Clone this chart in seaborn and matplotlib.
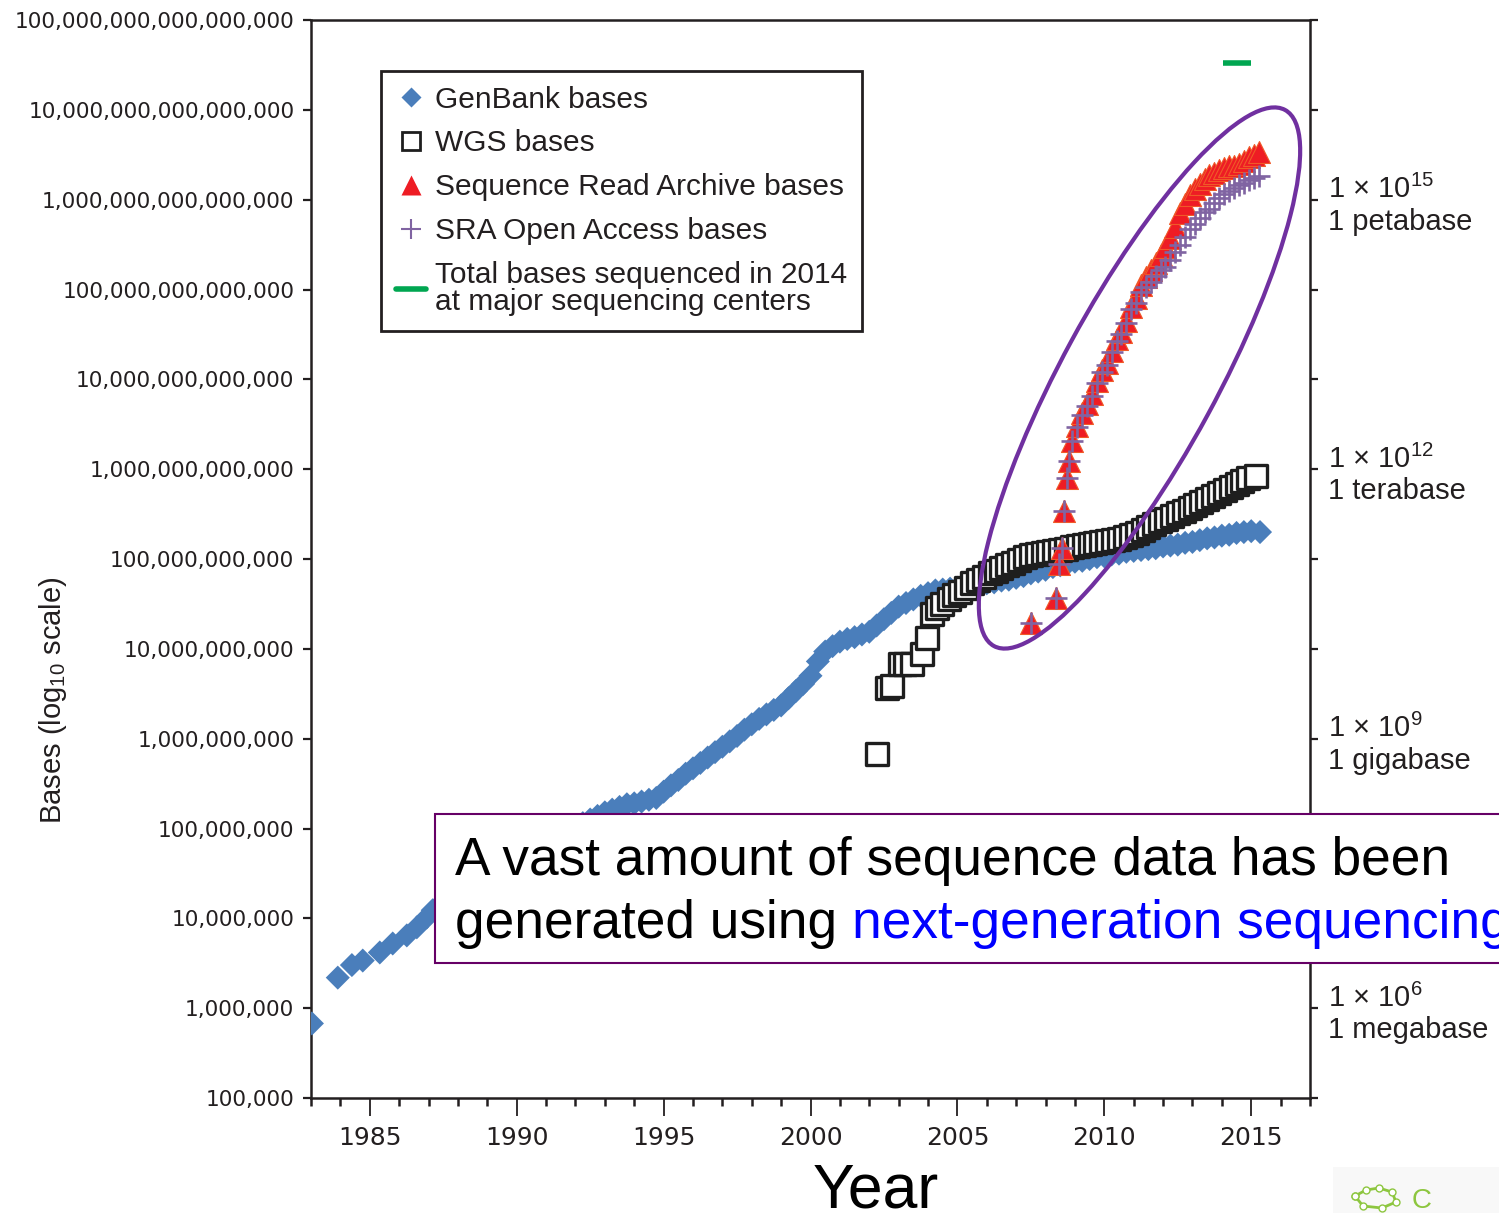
import numpy as np
import matplotlib
matplotlib.use('Agg')
import matplotlib.pyplot as plt
import seaborn as sns
from matplotlib.lines import Line2D
from matplotlib.patches import Ellipse, Rectangle
from matplotlib.ticker import LogLocator, NullLocator, FuncFormatter, FixedLocator, MultipleLocator

# --- dati (anno, log10 delle basi) ---
gb_year = [1983.03, 1983.91, 1984.39, 1984.76, 1985.34, 1985.78, 1986.26, 1986.60, 1986.94, 1987.14,
           1987.25, 1987.50, 1987.75,
           1988.00, 1988.25, 1988.50, 1988.75, 1989.00, 1989.25, 1989.50, 1989.75,
           1990.00, 1990.25, 1990.50, 1990.75, 1991.00, 1991.25, 1991.50, 1991.75,
           1992.00, 1992.25, 1992.50, 1992.75, 1993.00, 1993.25, 1993.50, 1993.75,
           1994.00, 1994.25, 1994.50, 1994.75, 1995.00, 1995.25, 1995.50, 1995.75,
           1996.00, 1996.25, 1996.50, 1996.75, 1997.00, 1997.25, 1997.50, 1997.75,
           1998.00, 1998.25, 1998.50, 1998.75, 1999.00, 1999.25, 1999.50, 1999.75,
           2000.00, 2000.25, 2000.50, 2000.75, 2001.00, 2001.25, 2001.50, 2001.75,
           2002.00, 2002.25, 2002.50, 2002.75, 2003.00, 2003.25, 2003.50, 2003.75,
           2004.00, 2004.25, 2004.50, 2004.75, 2005.00, 2005.25, 2005.50, 2005.75,
           2006.00, 2006.25, 2006.50, 2006.75, 2007.00, 2007.25, 2007.50, 2007.75,
           2008.00, 2008.25, 2008.50, 2008.75, 2009.00, 2009.25, 2009.50, 2009.75,
           2010.00, 2010.25, 2010.50, 2010.75, 2011.00, 2011.25, 2011.50, 2011.75,
           2012.00, 2012.25, 2012.50, 2012.75, 2013.00, 2013.25, 2013.50, 2013.75,
           2014.00, 2014.25, 2014.50, 2014.75, 2015.00, 2015.30]
gb_log = [5.83, 6.34, 6.48, 6.53, 6.62, 6.72, 6.81, 6.90, 7.01, 7.09,
          7.11, 7.17, 7.23,
          7.30, 7.36, 7.42, 7.47, 7.52, 7.57, 7.62, 7.66,
          7.70, 7.75, 7.80, 7.84, 7.88, 7.92, 7.95, 7.99,
          8.02, 8.06, 8.10, 8.14, 8.18, 8.21, 8.24, 8.27,
          8.28, 8.30, 8.32, 8.34, 8.41, 8.48, 8.54, 8.61,
          8.67, 8.73, 8.79, 8.85, 8.91, 8.97, 9.03, 9.10,
          9.16, 9.22, 9.27, 9.32, 9.37, 9.45, 9.53, 9.61,
          9.70, 9.86, 9.97, 10.03, 10.08, 10.11, 10.13, 10.16,
          10.19, 10.26, 10.33, 10.40, 10.47, 10.51, 10.55, 10.59,
          10.62, 10.65, 10.66, 10.67, 10.68, 10.69, 10.70, 10.71,
          10.73, 10.74, 10.76, 10.77, 10.79, 10.81, 10.84, 10.86,
          10.88, 10.91, 10.93, 10.95, 10.97, 10.98, 11.00, 11.02,
          11.03, 11.05, 11.06, 11.08, 11.09, 11.10, 11.11, 11.12,
          11.14, 11.15, 11.16, 11.18, 11.19, 11.21, 11.23, 11.24,
          11.26, 11.27, 11.29, 11.30, 11.31, 11.30]

wgs_year = [2002.28, 2002.62, 2002.79, 2003.03, 2003.20, 2003.44, 2003.78, 2003.95, 2004.12,
            2004.30, 2004.49, 2004.70, 2004.90, 2005.10, 2005.30, 2005.50, 2005.70, 2005.90,
            2006.10, 2006.30, 2006.50, 2006.70, 2006.90,
            2007.10, 2007.30, 2007.50, 2007.70, 2007.90,
            2008.10, 2008.30, 2008.50, 2008.70, 2008.90,
            2009.10, 2009.30, 2009.50, 2009.70, 2009.90,
            2010.10, 2010.30, 2010.50, 2010.70, 2010.90,
            2011.10, 2011.30, 2011.50, 2011.70, 2011.90,
            2012.10, 2012.30, 2012.50, 2012.70, 2012.90,
            2013.10, 2013.30, 2013.50, 2013.70, 2013.90,
            2014.10, 2014.30, 2014.50, 2014.70, 2014.90, 2015.17]
wgs_log = [8.83, 9.56, 9.59, 9.83, 9.83, 9.83, 9.94, 10.12, 10.39,
           10.45, 10.50, 10.55, 10.60, 10.63, 10.68, 10.73, 10.77, 10.80,
           10.84, 10.87, 10.90, 10.93, 10.96,
           10.99, 11.02, 11.04, 11.06, 11.07,
           11.08, 11.09, 11.10, 11.11, 11.13,
           11.14, 11.16, 11.17, 11.18, 11.19,
           11.20, 11.21, 11.22, 11.24, 11.27,
           11.29, 11.32, 11.36, 11.39, 11.42,
           11.45, 11.48, 11.51, 11.54, 11.57,
           11.60, 11.64, 11.67, 11.70, 11.74,
           11.77, 11.80, 11.84, 11.87, 11.90, 11.92]

sra_year = [2007.52, 2008.37, 2008.47, 2008.57, 2008.64, 2008.74, 2008.81, 2008.91,
            2009.08, 2009.25, 2009.42, 2009.58, 2009.75, 2009.92,
            2010.08, 2010.25, 2010.42, 2010.58, 2010.75, 2010.92,
            2011.08, 2011.25, 2011.42, 2011.58, 2011.75, 2011.92,
            2012.08, 2012.25, 2012.42, 2012.58, 2012.75, 2012.92,
            2013.08, 2013.25, 2013.42, 2013.58, 2013.75, 2013.92,
            2014.08, 2014.25, 2014.42, 2014.58, 2014.75, 2014.92,
            2015.08, 2015.25]
sra_log = [10.29, 10.57, 10.94, 11.12, 11.53, 11.90, 12.09, 12.31,
           12.48, 12.62, 12.72, 12.84, 12.98, 13.10,
           13.18, 13.32, 13.45, 13.53, 13.65, 13.80,
           13.90, 14.05, 14.14, 14.22, 14.30, 14.38,
           14.47, 14.57, 14.70, 14.85, 14.95, 15.05,
           15.12, 15.18, 15.23, 15.28, 15.30, 15.33,
           15.35, 15.37, 15.38, 15.40, 15.43, 15.47,
           15.50, 15.53]
# SRA Open Access: stessi istanti della SRA
oa_log = [10.29, 10.57, 10.94, 11.12, 11.53, 11.90, 12.09, 12.31,
          12.47, 12.60, 12.70, 12.82, 12.96, 13.08,
          13.16, 13.30, 13.43, 13.51, 13.63, 13.78,
          13.85, 13.97, 14.03, 14.08, 14.15, 14.22,
          14.25, 14.33, 14.42, 14.50, 14.58, 14.67,
          14.73, 14.80, 14.86, 14.90, 14.96, 15.02,
          15.06, 15.10, 15.13, 15.16, 15.19, 15.22,
          15.24, 15.26]

total_2014_year = [2014.5]
total_2014_log = [16.52]

right_exp = [15, 12, 9, 6]
right_names = ['1 petabase', '1 terabase', '1 gigabase', '1 megabase']
x_major = [1985, 1990, 1995, 2000, 2005, 2010, 2015]

labels = ['GenBank bases', 'WGS bases', 'Sequence Read Archive bases',
          'SRA Open Access bases', 'Total bases sequenced in 2014\nat major sequencing centers']

# colori
c_gb = '#4a7ebb'
c_wgs = '#1e1e1e'
c_sra = '#ee1c24'
c_oa = '#8064a2'
c_tot = '#00a651'
c_txt = '#231f20'

sns.set_style('ticks')
plt.rcParams['font.family'] = ['Liberation Sans', 'DejaVu Sans']
plt.rcParams['mathtext.fontset'] = 'custom'
plt.rcParams['mathtext.rm'] = 'Liberation Sans'
plt.rcParams['mathtext.it'] = 'Liberation Sans:italic'
plt.rcParams['mathtext.bf'] = 'Liberation Sans:bold'

fig = plt.figure(figsize=(14.99, 12.13), dpi=100)
ax = fig.add_axes([0.2075, 0.0948, 0.6664, 0.8887])
ax.set_yscale('log')

sns.scatterplot(x=gb_year, y=10 ** np.array(gb_log), marker='D', s=150, color=c_gb,
                edgecolor='none', ax=ax, zorder=3, legend=False)
sns.scatterplot(x=wgs_year, y=10 ** np.array(wgs_log), marker='s', s=250, color='white',
                edgecolor=c_wgs, linewidth=2.4, ax=ax, zorder=4, legend=False)
sns.scatterplot(x=sra_year, y=10 ** np.array(sra_log), marker='^', s=250, color=c_sra,
                edgecolor='#f05a28', linewidth=0.8, ax=ax, zorder=5, legend=False)
sns.scatterplot(x=sra_year, y=10 ** np.array(oa_log), marker='+', s=260, color=c_oa,
                linewidth=1.9, ax=ax, zorder=6, legend=False)
sns.scatterplot(x=total_2014_year, y=10 ** np.array(total_2014_log), marker='_', s=420,
                color=c_tot, linewidth=4, ax=ax, zorder=6, legend=False)

ax.set_xlim(1983, 2017)
ax.set_ylim(1e5, 1e17)

# assi e tick
ax.yaxis.set_major_locator(LogLocator(base=10, numticks=30))
ax.yaxis.set_minor_locator(NullLocator())
ax.yaxis.set_major_formatter(FuncFormatter(lambda v, p: f'{int(round(v)):,}'))
ax.xaxis.set_major_locator(FixedLocator(x_major))
ax.xaxis.set_minor_locator(MultipleLocator(1))

ax.tick_params(axis='y', which='major', direction='out', length=6, width=1.6,
               left=True, right=True, labelsize=15.6, pad=6, color=c_txt,
               labelcolor=c_txt, labelfontfamily='DejaVu Sans')
ax.tick_params(axis='x', which='major', direction='out', length=13, width=1.3,
               labelsize=18, pad=7, color=c_txt, labelcolor=c_txt,
               labelfontfamily='DejaVu Sans')
ax.tick_params(axis='x', which='minor', direction='out', length=6, width=1.8, color=c_txt)
for s in ax.spines.values():
    s.set_linewidth(1.8)
    s.set_color(c_txt)
    s.set_visible(True)

# etichette lato destro
for e, name in zip(right_exp, right_names):
    ax.annotate(f'1 × 10$^{{{e}}}$', xy=(1, 10.0 ** e), xycoords=('axes fraction', 'data'),
                xytext=(13, 1), textcoords='offset points', ha='left', va='baseline',
                fontsize=21, color=c_txt, annotation_clip=False)
    ax.annotate(name, xy=(1, 10.0 ** e), xycoords=('axes fraction', 'data'),
                xytext=(13, -21.6), textcoords='offset points', ha='left', va='baseline',
                fontsize=21, color=c_txt, annotation_clip=False)

ax.set_ylabel('Bases (log$_{10}$ scale)', fontsize=21, color=c_txt)
ax.yaxis.label.set_va('center')
ax.yaxis.set_label_coords(-0.258, 0.369)
ax.set_xlabel('Year', fontsize=45, color='black')
ax.xaxis.label.set_va('baseline')
ax.xaxis.set_label_coords(0.565, -0.102)

# legenda
handles = [
    Line2D([], [], marker='D', ls='none', color=c_gb, markersize=10, mec='none'),
    Line2D([], [], marker='s', ls='none', mfc='white', mec=c_wgs, markersize=13, mew=2),
    Line2D([], [], marker='^', ls='none', color=c_sra, markersize=14, mec='none'),
    Line2D([], [], marker='+', ls='none', color=c_oa, markersize=14, mew=1.5),
    Line2D([], [], color=c_tot, lw=4),
]
leg = ax.legend(handles, labels, loc='upper left', bbox_to_anchor=(0.07, 0.953),
                prop={'family': ['Liberation Sans', 'DejaVu Sans'], 'size': 21.5},
                frameon=True, fancybox=False, framealpha=1, edgecolor=c_txt,
                handlelength=1.0, handletextpad=0.3, labelspacing=0.53,
                borderpad=0.5, borderaxespad=0)
leg.get_frame().set_linewidth(2)
for t in leg.get_texts():
    t.set_color(c_txt)
leg.get_texts()[-1].set_linespacing(0.95)
leg.set_zorder(20)

# ellisse viola intorno ai dati SRA
fig.add_artist(Ellipse((11.395, 8.35), 6.1, 1.55, angle=61.5, transform=fig.dpi_scale_trans,
                       fill=False, edgecolor='#7030a0', lw=3, zorder=15))

# riquadro di testo in basso
fig.add_artist(Rectangle((4.35, 2.50), 11.0, 1.49, transform=fig.dpi_scale_trans,
                         facecolor='white', edgecolor='#660066', lw=1.5, zorder=16))
fig.text(4.55, 3.38, 'A vast amount of sequence data has been', transform=fig.dpi_scale_trans,
         fontsize=38.3, va='baseline', color='black', zorder=17)
fig.text(4.55, 2.75, 'generated using', transform=fig.dpi_scale_trans,
         fontsize=38.3, va='baseline', color='black', zorder=17)
fig.text(8.52, 2.75, 'next-generation sequencing', transform=fig.dpi_scale_trans,
         fontsize=38.3, va='baseline', color='#0000ff', zorder=17)

# logo in basso a destra
fig.add_artist(Rectangle((13.33, 0.0), 1.66, 0.46, transform=fig.dpi_scale_trans,
                         facecolor='#f8f8f8', edgecolor='none', zorder=1))
fig.add_artist(Line2D([13.55, 13.66, 13.79, 13.92, 13.96, 13.82, 13.63, 13.55],
                      [0.17, 0.23, 0.25, 0.21, 0.11, 0.05, 0.07, 0.17],
                      transform=fig.dpi_scale_trans, color='#8dc63f', lw=2,
                      marker='o', markersize=5, mfc='white', mec='#8dc63f', zorder=2))
fig.text(14.12, 0.05, 'C', transform=fig.dpi_scale_trans, fontsize=20, color='#8dc63f', zorder=2)

fig.savefig('out.png', dpi=100)
